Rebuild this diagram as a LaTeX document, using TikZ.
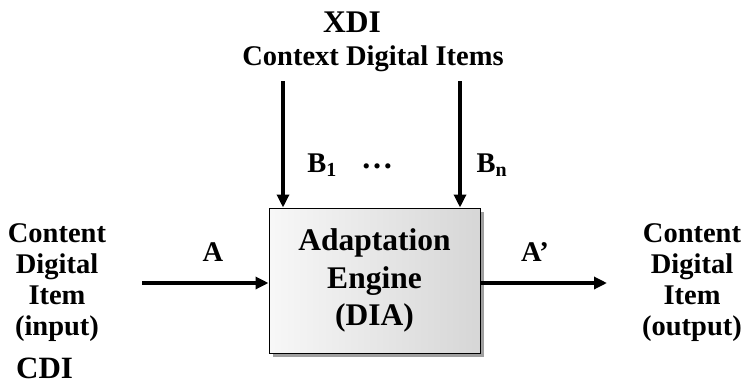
\documentclass[tikz,border=0pt]{standalone}
\usepackage{fontspec}
\setmainfont{Liberation Serif}
\usetikzlibrary{arrows.meta,shadows}
\begin{document}
\begin{tikzpicture}[x=1pt,y=-1pt,
  lbl/.style={font=\bfseries\fontsize{28.5}{31}\selectfont, inner sep=0pt},
  side/.style={lbl, align=center},
  flow/.style={line width=3.2pt, -{Triangle[length=13pt,width=12pt]}},
  engine/.style={draw=black, line width=1pt, left color=gray!6, right color=gray!32,
    minimum width=211pt, minimum height=145pt, inner sep=0pt, align=center,
    font=\bfseries\fontsize{31.5}{37.5}\selectfont,
    drop shadow={shadow xshift=4pt, shadow yshift=-4pt, fill=gray!75, opacity=1}}]
\useasboundingbox (0,0) rectangle (746,389);

% central adaptation engine
\node[engine] (dia) at (374.5,280.5) {Adaptation\\Engine\\(DIA)};

% context digital items on top
\node[lbl, font=\bfseries\fontsize{31.5}{33}\selectfont] (xdi) at (352,22) {XDI};
\node[lbl] (ctx) at (373,59) {Context Digital Items};
\coordinate (b1top) at (283,81);
\coordinate (bntop) at (460,81);
\draw[flow] (b1top) -- (b1top |- dia.north);
\draw[flow] (bntop) -- (bntop |- dia.north);
\node[lbl] (b1) at (322,165) {B\textsubscript{1}};
\node[lbl, font=\bfseries\fontsize{32}{31}\selectfont] (dots) at (377,166) {\dots};
\node[lbl] (bn) at (492,165) {B\textsubscript{n}};

% input content digital item
\node[side] (cin) at (57,283) {Content\\Digital\\Item\\(input)};
\node[lbl, font=\bfseries\fontsize{31}{33}\selectfont, anchor=west] (cdi) at (16,368) {CDI};
\coordinate (ain) at (142,283);
\draw[flow] (ain) -- (ain -| dia.west);
\node[lbl] (a) at (213,252) {A};

% output content digital item
\node[side] (cout) at (692,283) {Content\\Digital\\Item\\(output)};
\coordinate (aout) at (607,283);
\draw[flow] (aout -| dia.east) -- (aout);
\node[lbl] (ap) at (535,252) {A’};
\end{tikzpicture}
\end{document}
